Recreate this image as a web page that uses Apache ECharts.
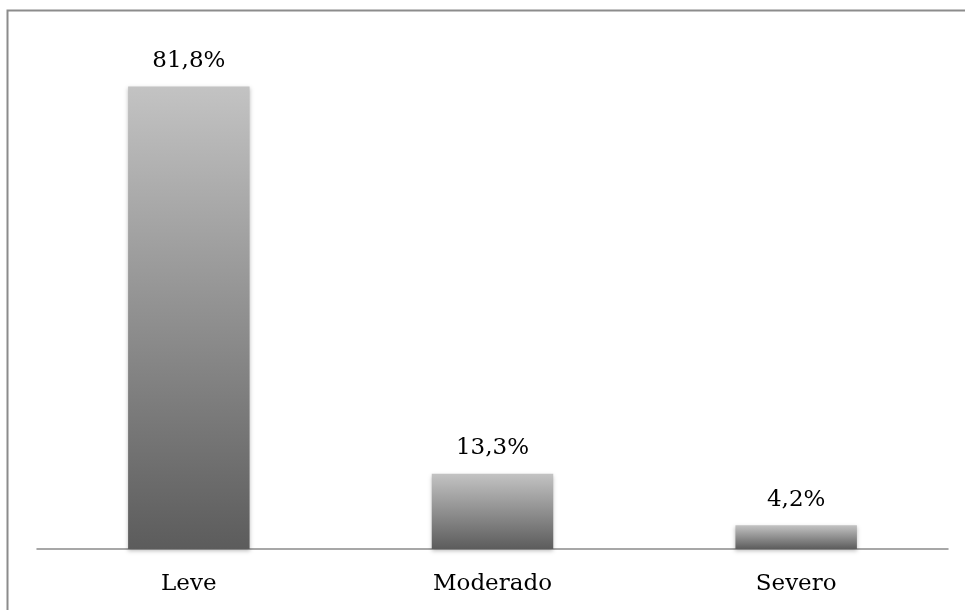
<!DOCTYPE html>
<html lang="pt">
<head>
  <meta charset="UTF-8">
  <title>bar</title>
  <script src="https://cdn.jsdelivr.net/npm/echarts@6/dist/echarts.min.js"></script>
  <style>
    html, body { margin: 0; padding: 0; background: #fff; }
    #chart { width: 965px; height: 610px; }
  </style>
</head>
<body>
  <div id="chart"></div>
  <script>
    // dados
    var categorias = ['Leve', 'Moderado', 'Severo']
    var valores = [81.8, 13.3, 4.2]

    var mCharts = echarts.init(document.getElementById('chart'))
    var fonte = 'DejaVu Serif'

    var option = {
      animation: false,
      grid: { left: 37, right: 17, top: 40, bottom: 61 },
      // moldura (só topo e esquerda aparecem)
      graphic: [
        {
          type: 'polyline',
          shape: { points: [[7.5, 610], [7.5, 10.5], [965, 10.5]] },
          style: { stroke: '#8c8c8c', lineWidth: 2, fill: null }
        }
      ],
      xAxis: {
        type: 'category',
        data: categorias,
        axisTick: { show: false },
        axisLine: { lineStyle: { color: '#8a8a8a', width: 1.5 } },
        axisLabel: {
          color: '#000',
          fontFamily: fonte,
          fontSize: 23,
          margin: 24
        }
      },
      yAxis: {
        type: 'value',
        min: 0,
        max: 90,
        show: false
      },
      series: [
        {
          type: 'bar',
          data: valores,
          barWidth: '40%',
          itemStyle: {
            color: {
              type: 'linear',
              x: 0, y: 0, x2: 0, y2: 1,
              colorStops: [
                { offset: 0, color: '#c3c3c3' },
                { offset: 1, color: '#5c5c5c' }
              ]
            },
            shadowBlur: 4,
            shadowColor: 'rgba(0,0,0,0.25)',
            shadowOffsetY: 2
          },
          label: {
            show: true,
            position: 'top',
            distance: 14,
            color: '#000',
            fontFamily: fonte,
            fontSize: 23,
            formatter: function (p) {
              return p.value.toFixed(1).replace('.', ',') + '%'
            }
          }
        }
      ]
    }
    mCharts.setOption(option)
  </script>
</body>
</html>
